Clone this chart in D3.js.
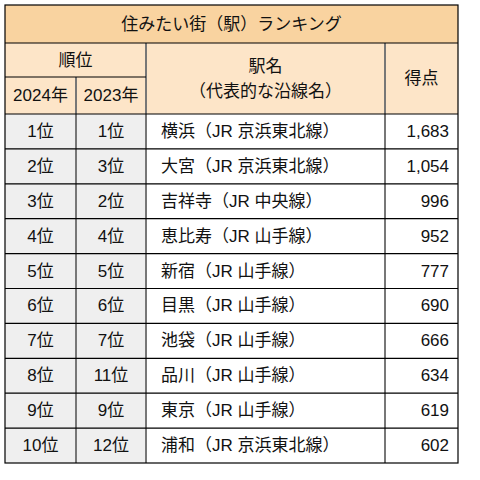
<!DOCTYPE html><html><head><meta charset="utf-8"><script src="https://cdn.jsdelivr.net/npm/d3@7"></script>
<style>body{margin:0;background:#fff}</style></head><body><svg id="c" width="480" height="480"></svg>
<script>
const rank2024=["1位","2位","3位","4位","5位","6位","7位","8位","9位","10位"];
const rank2023=["1位","3位","2位","4位","5位","6位","7位","11位","9位","12位"];
const stations=["横浜（JR 京浜東北線）","大宮（JR 京浜東北線）","吉祥寺（JR 中央線）","恵比寿（JR 山手線）","新宿（JR 山手線）","目黒（JR 山手線）","池袋（JR 山手線）","品川（JR 山手線）","東京（JR 山手線）","浦和（JR 京浜東北線）"];
const scores=[1683,1054,996,952,777,690,666,634,619,602];
const svg=d3.select("#c");
const F="'Liberation Sans','Noto Sans CJK JP',sans-serif";
const L=5,R=458,c1=76,c2=146,c3=385,T=5,h1=43,h2=77,h3=114,B=463;
const y=d3.scaleBand().domain(d3.range(10)).range([h3,B]);
const fmt=d3.format(",");
function rect(x0,y0,x1,y1,f){svg.append("rect").attr("x",x0).attr("y",y0).attr("width",x1-x0).attr("height",y1-y0).attr("fill",f);}
function txt(x,yy,s,a){svg.append("text").attr("x",x).attr("y",yy).attr("text-anchor",a||"middle").attr("dominant-baseline","central").attr("font-family",F).attr("font-size",17).attr("fill","#111").text(s);}
function line(x0,y0,x1,y1,c){svg.append("line").attr("x1",x0).attr("y1",y0).attr("x2",x1).attr("y2",y1).attr("stroke",c).attr("stroke-width",c=="#000"?1.2:2);}
rect(L,T,R,h1,"#f9d3a0");rect(L,h1,R,h3,"#fde5c8");
rect(L,h3,c2,B,"#efefef");
txt((L+R)/2,(T+h1)/2,"住みたい街（駅）ランキング");
txt((L+c2)/2,(h1+h2)/2,"順位");
txt((L+c1)/2,(h2+h3)/2,"2024年");txt((c1+c2)/2,(h2+h3)/2,"2023年");
txt((c2+c3)/2,(h1+h3)/2-12,"駅名");txt((c2+c3)/2,(h1+h3)/2+13,"（代表的な沿線名）");
txt((c3+R)/2,(h1+h3)/2,"得点");
d3.range(10).forEach(i=>{const cy=y(i)+y.bandwidth()/2;
txt((L+c1)/2,cy,rank2024[i]);txt((c1+c2)/2,cy,rank2023[i]);
txt(c2+15,cy,stations[i],"start");txt(R-9,cy,fmt(scores[i]),"end");});
line(c1,h2,c1,B,"#777");line(c2,h1,c2,B,"#777");line(c3,h1,c3,B,"#777");
line(L,h1,R,h1,"#000");line(L,h2,c2,h2,"#000");line(L,h3,R,h3,"#000");
d3.range(1,10).forEach(i=>line(L,y(i),R,y(i),"#000"));
svg.append("rect").attr("x",L).attr("y",T).attr("width",R-L).attr("height",B-T).attr("fill","none").attr("stroke","#000").attr("stroke-width",1.2);
</script></body></html>
